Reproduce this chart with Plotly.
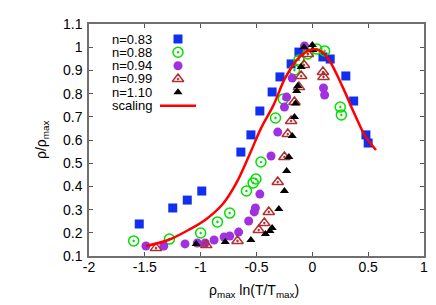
import plotly.graph_objects as go

# n=0.83 (blue squares)
x083 = [-1.55, -1.25, -1.12, -0.99, -0.64, -0.55, -0.47, -0.36, -0.29, -0.19, -0.12, 0.095, 0.16, 0.30, 0.37, 0.48, 0.50]
y083 = [0.238, 0.307, 0.341, 0.380, 0.548, 0.622, 0.725, 0.807, 0.872, 0.928, 0.979, 0.958, 0.949, 0.876, 0.768, 0.622, 0.587]

# n=0.88 (green open circles)
x088 = [-1.60, -1.28, -1.00, -0.85, -0.74, -0.59, -0.53, -0.505, -0.46, -0.33, -0.26, -0.16, -0.12, -0.04, 0.04, 0.11, 0.25, 0.26]
y088 = [0.165, 0.173, 0.199, 0.247, 0.285, 0.380, 0.415, 0.432, 0.505, 0.695, 0.777, 0.902, 0.945, 0.971, 0.992, 0.984, 0.742, 0.708]

# n=0.94 (purple filled circles)
x094 = [-1.49, -1.33, -1.14, -1.03, -0.96, -0.88, -0.79, -0.74, -0.66, -0.57, -0.52, -0.51, -0.47, -0.37, -0.31, -0.25, -0.23, -0.18, -0.07, 0.10, 0.11]
y094 = [0.143, 0.143, 0.152, 0.156, 0.156, 0.169, 0.182, 0.186, 0.203, 0.251, 0.290, 0.307, 0.367, 0.531, 0.634, 0.742, 0.785, 0.867, 1.005, 0.824, 0.794]

# n=0.99 (red open triangles)
x099 = [-1.40, -0.95, -0.67, -0.48, -0.43, -0.39, -0.31, -0.25, -0.22, -0.19, -0.16, -0.12, -0.10, -0.075, -0.04, 0.095, 0.10]
y099 = [0.134, 0.147, 0.165, 0.212, 0.242, 0.290, 0.419, 0.527, 0.626, 0.682, 0.764, 0.828, 0.876, 0.923, 0.971, 0.893, 0.872]

# n=1.10 (black filled triangles)
x110 = [-1.04, -0.78, -0.55, -0.42, -0.38, -0.36, -0.30, -0.25, -0.23, -0.21, -0.18, -0.16, -0.15, -0.14, -0.13, -0.10, -0.075, 0.0, 0.005]
y110 = [0.152, 0.160, 0.169, 0.195, 0.208, 0.221, 0.303, 0.380, 0.466, 0.527, 0.617, 0.699, 0.757, 0.811, 0.833, 0.915, 1.000, 1.009, 0.988]

# scaling curve (red line)
xs = [-1.49, -1.29, -1.11, -0.96, -0.80, -0.68, -0.56, -0.46, -0.35, -0.24, -0.11, 0.0, 0.08, 0.15, 0.27, 0.38, 0.47, 0.57]
ys = [0.143, 0.169, 0.212, 0.255, 0.325, 0.415, 0.540, 0.650, 0.748, 0.870, 0.960, 0.990, 0.982, 0.945, 0.830, 0.710, 0.620, 0.557]

labels = ["n=0.83", "n=0.88", "n=0.94", "n=0.99", "n=1.10", "scaling"]
xticks = [-2, -1.5, -1, -0.5, 0, 0.5, 1]
xticklabels = ["-2", "-1.5", "-1", "-0.5", "0", "0.5", "1"]
yticks = [0.1, 0.2, 0.3, 0.4, 0.5, 0.6, 0.7, 0.8, 0.9, 1.0, 1.1]
yticklabels = ["0.1", "0.2", "0.3", "0.4", "0.5", "0.6", "0.7", "0.8", "0.9", "1", "1.1"]
xtitle = "ρ<sub>max</sub> ln(T/T<sub>max</sub>)"
ytitle = "ρ/ρ<sub>max</sub>"

FONT = "Liberation Sans, Arial, sans-serif"

styles = [
    dict(mode="markers", marker=dict(symbol="square", size=9, color="#1030ee")),
    dict(mode="markers", marker=dict(symbol="circle-open-dot", size=10, color="#00e000", line=dict(width=1.5))),
    dict(mode="markers", marker=dict(symbol="circle", size=9, color="#a030e0")),
    dict(mode="markers", marker=dict(symbol="triangle-up-open-dot", size=10, color="#b03030", line=dict(width=1.5))),
    dict(mode="markers", marker=dict(symbol="triangle-up", size=8, color="black")),
]

fig = go.Figure()
data = [(x083, y083), (x088, y088), (x094, y094), (x099, y099), (x110, y110)]
for (xx, yy), st, lab in zip(data, styles, labels):
    fig.add_trace(go.Scatter(x=xx, y=yy, name=lab, showlegend=False, **st))
fig.add_trace(go.Scatter(x=xs, y=ys, mode="lines", line=dict(color="#ff0000", width=2.5, shape="spline", smoothing=1.0),
                         name="scaling", showlegend=False))

# custom legend: text on left, key on right (paper coords via overlay axis)
L = 436 - 81 - 20
T = 305 - 16 - 57
def px(xp):
    return (xp - 81) / L
def py(yp):
    return 1 - (yp - 16) / T

rows = [31, 44.3, 57.7, 71, 84.3, 97.7]
for i, st in enumerate(styles):
    fig.add_trace(go.Scatter(x=[px(170)], y=[py(rows[i])], xaxis="x2", yaxis="y2",
                             showlegend=False, hoverinfo="skip", **st))
fig.add_trace(go.Scatter(x=[px(152), px(188)], y=[py(rows[5])] * 2, xaxis="x2", yaxis="y2",
                         mode="lines", line=dict(color="#ff0000", width=2.5), showlegend=False, hoverinfo="skip"))
for i, lab in enumerate(labels):
    fig.add_annotation(x=px(145), y=py(rows[i]), xref="paper", yref="paper", text=lab, showarrow=False,
                       xanchor="right", yanchor="middle", borderpad=0,
                       font=dict(family=FONT, size=13, color="black"))

# axis titles
fig.add_annotation(x=px(246), y=py(283), xref="paper", yref="paper", text=xtitle, showarrow=False,
                   xanchor="center", yanchor="middle", borderpad=0, font=dict(family=FONT, size=14, color="black"))
fig.add_annotation(x=px(34), y=py(132), xref="paper", yref="paper", text=ytitle, showarrow=False, textangle=-90,
                   xanchor="center", yanchor="middle", borderpad=0, font=dict(family=FONT, size=14, color="black"))

axcommon = dict(showgrid=False, zeroline=False, ticks="inside", ticklen=4, tickwidth=1, tickcolor="#555",
                mirror="allticks", showline=True, linecolor="#707070", linewidth=1.5, automargin=False,
                tickfont=dict(family=FONT, size=14, color="black"))

fig.update_layout(
    width=436, height=305,
    margin=dict(l=81, r=20, t=16, b=57),
    paper_bgcolor="white", plot_bgcolor="white",
    showlegend=False,
    xaxis=dict(range=[-2, 1], tickvals=xticks, ticktext=xticklabels, tickangle=0, ticklabelstandoff=-3, **axcommon),
    yaxis=dict(range=[0.1, 1.1], tickvals=yticks, ticktext=yticklabels, ticklabelstandoff=2, **axcommon),
    xaxis2=dict(range=[0, 1], overlaying="x", visible=False, fixedrange=True),
    yaxis2=dict(range=[0, 1], overlaying="y", visible=False, fixedrange=True),
)

fig.write_html("out.html")
